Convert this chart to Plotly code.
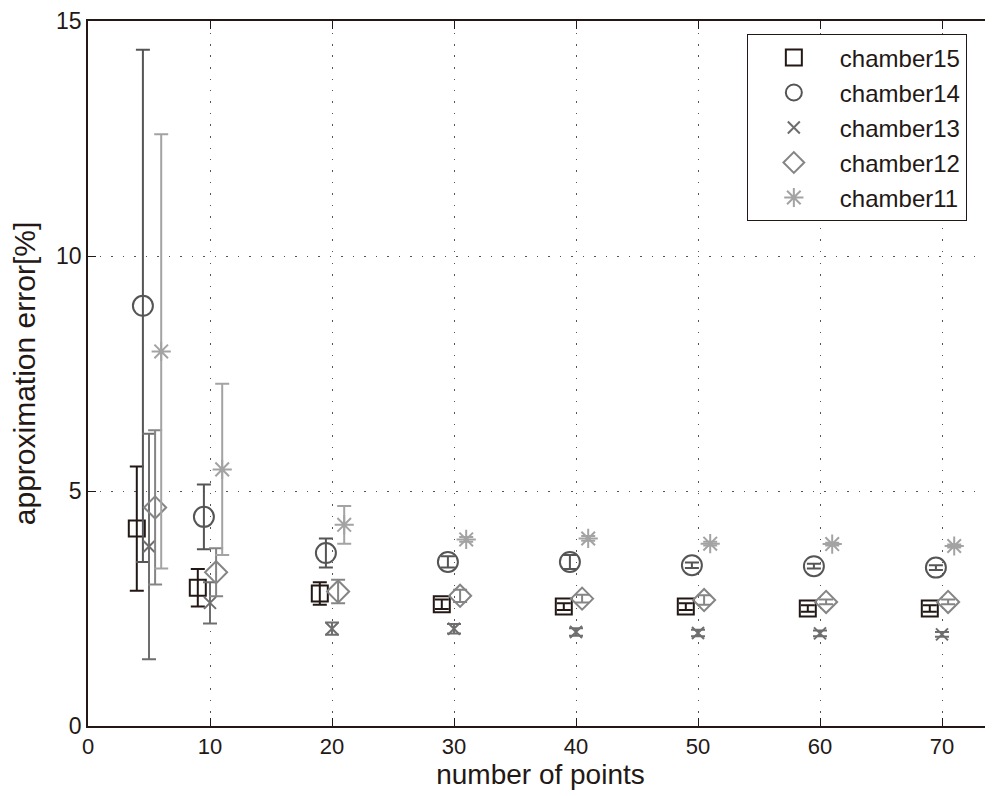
import plotly.graph_objects as go

# ---- data ----
points = [5, 10, 20, 30, 40, 50, 60, 70]
series_names = ["chamber15", "chamber14", "chamber13", "chamber12", "chamber11"]

chamber15 = [4.20, 2.94, 2.82, 2.59, 2.54, 2.54, 2.50, 2.50]
chamber15_err = [1.32, 0.40, 0.24, 0.10, 0.07, 0.07, 0.07, 0.07]

chamber14 = [8.94, 4.45, 3.68, 3.49, 3.49, 3.42, 3.40, 3.37]
chamber14_err = [5.45, 0.69, 0.31, 0.12, 0.15, 0.06, 0.05, 0.05]

chamber13 = [3.82, 2.62, 2.07, 2.07, 2.00, 1.98, 1.97, 1.95]
chamber13_err = [2.40, 0.44, 0.13, 0.10, 0.08, 0.07, 0.06, 0.05]

chamber12 = [4.65, 3.27, 2.86, 2.77, 2.71, 2.68, 2.64, 2.64]
chamber12_err = [1.64, 0.51, 0.25, 0.13, 0.08, 0.10, 0.05, 0.05]

chamber11 = [7.97, 5.46, 4.28, 3.97, 3.99, 3.88, 3.87, 3.83]
chamber11_err = [4.62, 1.82, 0.40, 0.05, 0.05, 0.04, 0.03, 0.03]

x_ticks = [0, 10, 20, 30, 40, 50, 60, 70]
y_ticks = [0, 5, 10, 15]

# ---- style ----
values = [chamber15, chamber14, chamber13, chamber12, chamber11]
errors = [chamber15_err, chamber14_err, chamber13_err, chamber12_err, chamber11_err]
offsets = [-1.0, -0.5, 0.0, 0.5, 1.0]
colors = ["#231815", "#555555", "#6e6e6e", "#858585", "#a3a3a3"]
symbols = ["square-open", "circle-open", "x-thin-open", "diamond-open", "asterisk-open"]
sizes = [16, 20, 12, 17, 16]

FONT = "Liberation Sans, Arial, sans-serif"
INK = "#231815"

fig = go.Figure()
for name, v, e, off, c, s, sz in zip(series_names, values, errors, offsets, colors, symbols, sizes):
    fig.add_trace(go.Scatter(
        x=[p + off for p in points], y=v, name=name, mode="markers",
        legendgroup=name,
        marker=dict(symbol=s, size=sz, color=c, line=dict(color=c, width=2)),
        error_y=dict(type="data", array=e, visible=True, color=c, thickness=2, width=7),
    ))

# page body has an 8px default margin, so the figure is 8px smaller
fig.update_layout(
    width=985, height=788,
    margin=dict(l=80, r=0, t=13, b=70),
    paper_bgcolor="white", plot_bgcolor="white",
    font=dict(family=FONT, size=22, color=INK),
    legend=dict(
        x=0.728, y=0.981, xanchor="left", yanchor="top",
        bgcolor="white", bordercolor=INK, borderwidth=1,
        font=dict(family=FONT, size=24, color=INK),
        traceorder="grouped", tracegroupgap=0.8, itemwidth=82,
    ),
    xaxis=dict(
        range=[0, 74.18], tickmode="array", tickvals=x_ticks,
        ticks="inside", ticklen=8, tickcolor=INK, tickwidth=1,
        showline=True, linecolor=INK, linewidth=1.5, mirror="ticks",
        showgrid=True, gridcolor="#555555", gridwidth=1, griddash="1.5px,10px",
        zeroline=False,
        title=dict(text="number of points", font=dict(size=28), standoff=3),
        tickfont=dict(size=22),
    ),
    yaxis=dict(
        range=[0, 15], tickmode="array", tickvals=y_ticks,
        ticks="inside", ticklen=8, tickcolor=INK, tickwidth=1,
        showline=True, linecolor=INK, linewidth=1.5, mirror=False,
        showgrid=True, gridcolor="#555555", gridwidth=1, griddash="1.5px,10px",
        zeroline=False,
        title=dict(text="approximation error[%]", font=dict(size=30), standoff=12),
        tickfont=dict(size=23),
    ),
)

fig.write_html("out.html")
